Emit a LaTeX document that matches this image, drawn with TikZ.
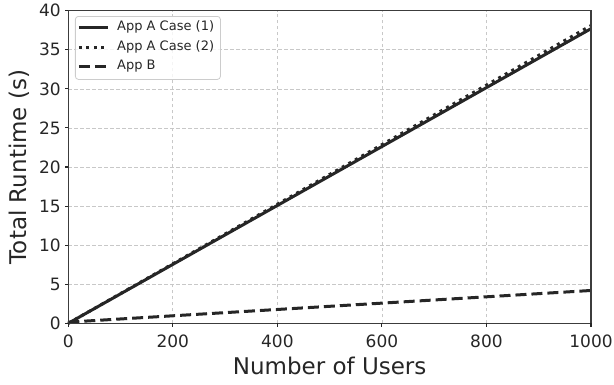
\documentclass[tikz,border=0pt]{standalone}
\usepackage{fontspec}
\setmainfont{DejaVu Sans}
\definecolor{ink}{HTML}{262626}
\definecolor{gridgray}{HTML}{C8C8C8}
\definecolor{framegray}{HTML}{CCCCCC}
\tikzset{
  gridline/.style={draw=gridgray,line width=0.7pt,dash pattern=on 3.5pt off 2.5pt},
  spine/.style={draw=ink!90,line width=1.1pt},
  tickmark/.style={draw=ink,line width=1.1pt},
  ticklabel/.style={font=\fontsize{17}{17}\selectfont,text=ink,inner sep=0pt},
  axislabel/.style={font=\fontsize{23}{23}\selectfont,text=ink,inner sep=0pt},
  legendtext/.style={font=\fontsize{13}{13}\selectfont,text=ink,inner sep=0pt,anchor=west},
  caseone/.style={draw=ink,line width=3pt},
  casetwo/.style={draw=ink,line width=3pt,dash pattern=on 3pt off 4.5pt},
  appb/.style={draw=ink,line width=3pt,dash pattern=on 11pt off 5pt}
}
\begin{document}
\begin{tikzpicture}[x=0.5227pt,y=7.815pt]
\useasboundingbox (-68.3pt,-60.7pt) rectangle (545.7pt,323.3pt);
% grid
\path[gridline] (0,0) grid[step={(200,5)}] (1000,40);

% data
\path[caseone] (0,0) -- (1000,37.7);
\path[appb] (0,0.15) -- (1000,4.2);
\path[casetwo] (0,0) -- (1000,38.1);

% axes box
\path[spine] (0,0) rectangle (1000,40);

% x ticks
\path[tickmark] (0,0) -- ++(0,-3.5pt) node[ticklabel,anchor=north,yshift=-8pt] (x0) {0};
\path[tickmark] (200,0) -- ++(0,-3.5pt) node[ticklabel,anchor=north,yshift=-8pt] (x200) {200};
\path[tickmark] (400,0) -- ++(0,-3.5pt) node[ticklabel,anchor=north,yshift=-8pt] (x400) {400};
\path[tickmark] (600,0) -- ++(0,-3.5pt) node[ticklabel,anchor=north,yshift=-8pt] (x600) {600};
\path[tickmark] (800,0) -- ++(0,-3.5pt) node[ticklabel,anchor=north,yshift=-8pt] (x800) {800};
\path[tickmark] (1000,0) -- ++(0,-3.5pt) node[ticklabel,anchor=north,yshift=-8pt] (x1000) {1000};

% y ticks
\path[tickmark] (0,0) -- ++(-3.5pt,0) node[ticklabel,anchor=east,xshift=-3.5pt] (y0) {0};
\path[tickmark] (0,5) -- ++(-3.5pt,0) node[ticklabel,anchor=east,xshift=-3.5pt] (y5) {5};
\path[tickmark] (0,10) -- ++(-3.5pt,0) node[ticklabel,anchor=east,xshift=-3.5pt] (y10) {10};
\path[tickmark] (0,15) -- ++(-3.5pt,0) node[ticklabel,anchor=east,xshift=-3.5pt] (y15) {15};
\path[tickmark] (0,20) -- ++(-3.5pt,0) node[ticklabel,anchor=east,xshift=-3.5pt] (y20) {20};
\path[tickmark] (0,25) -- ++(-3.5pt,0) node[ticklabel,anchor=east,xshift=-3.5pt] (y25) {25};
\path[tickmark] (0,30) -- ++(-3.5pt,0) node[ticklabel,anchor=east,xshift=-3.5pt] (y30) {30};
\path[tickmark] (0,35) -- ++(-3.5pt,0) node[ticklabel,anchor=east,xshift=-3.5pt] (y35) {35};
\path[tickmark] (0,40) -- ++(-3.5pt,0) node[ticklabel,anchor=east,xshift=-3.5pt] (y40) {40};

% axis labels
\node[axislabel,anchor=base] (xlab) at ([yshift=-51pt]500,0) {Number of Users};
\node[axislabel,anchor=base,rotate=90] (ylab) at ([xshift=-41.6pt]0,20) {Total Runtime (s)};

% legend
\node[draw=framegray,fill=white,fill opacity=0.8,rounded corners=3pt,minimum width=145pt,minimum height=63pt,anchor=north west,line width=0.8pt] (legend) at (6.7pt,307.3pt) {};
\coordinate (l1a) at (10.7pt,296.3pt);
\coordinate (l1b) at (39.7pt,296.3pt);
\coordinate (l2a) at (10.7pt,276.3pt);
\coordinate (l2b) at (39.7pt,276.3pt);
\coordinate (l3a) at (10.7pt,257.3pt);
\coordinate (l3b) at (39.7pt,257.3pt);
\path[caseone] (l1a) -- (l1b);
\path[casetwo] (l2a) -- (l2b);
\path[appb] (l3a) -- (l3b);
\node[legendtext] (t1) at (48.7pt,296.3pt) {App A Case (1)};
\node[legendtext] (t2) at (48.7pt,276.3pt) {App A Case (2)};
\node[legendtext] (t3) at (48.7pt,257.3pt) {App B};
\end{tikzpicture}
\end{document}
